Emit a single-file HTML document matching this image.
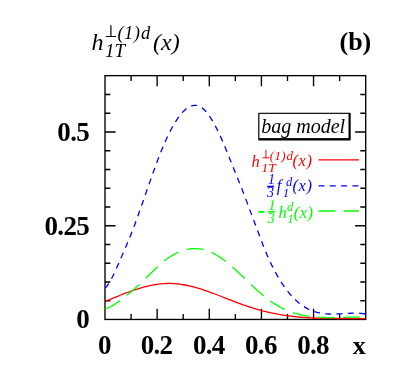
<!DOCTYPE html>
<html><head><meta charset="utf-8">
<style>
html,body{margin:0;padding:0;background:#fff;}
body{width:409px;height:371px;overflow:hidden;position:relative;}
svg{display:block;position:absolute;left:0;top:0;}
.w{position:absolute;left:0;top:0;width:409px;height:371px;will-change:transform;}
.t{position:absolute;line-height:0;white-space:nowrap;font-family:"Liberation Serif",serif;}
</style></head><body>
<svg width="409" height="371" viewBox="0 0 409 371">
<rect width="409" height="371" fill="#fff"/>
<rect x="105.0" y="75.65" width="260.70" height="243.80" fill="none" stroke="#000" stroke-width="1.35"/>
<path d="M131.07,319.45 v-5.4 M131.07,75.65 v5.4 M157.14,319.45 v-10.6 M157.14,75.65 v10.6 M183.21,319.45 v-5.4 M183.21,75.65 v5.4 M209.28,319.45 v-10.6 M209.28,75.65 v10.6 M235.35,319.45 v-5.4 M235.35,75.65 v5.4 M261.42,319.45 v-10.6 M261.42,75.65 v10.6 M287.49,319.45 v-5.4 M287.49,75.65 v5.4 M313.56,319.45 v-10.6 M313.56,75.65 v10.6 M339.63,319.45 v-5.4 M339.63,75.65 v5.4 M105.0,300.70 h5.4 M365.7,300.70 h-5.4 M105.0,281.95 h5.4 M365.7,281.95 h-5.4 M105.0,263.20 h5.4 M365.7,263.20 h-5.4 M105.0,244.45 h5.4 M365.7,244.45 h-5.4 M105.0,225.70 h10.6 M365.7,225.70 h-10.6 M105.0,206.95 h5.4 M365.7,206.95 h-5.4 M105.0,188.20 h5.4 M365.7,188.20 h-5.4 M105.0,169.45 h5.4 M365.7,169.45 h-5.4 M105.0,150.70 h5.4 M365.7,150.70 h-5.4 M105.0,131.95 h10.6 M365.7,131.95 h-10.6 M105.0,113.20 h5.4 M365.7,113.20 h-5.4 M105.0,94.45 h5.4 M365.7,94.45 h-5.4" stroke="#000" stroke-width="1.35" fill="none"/>
<g fill="none" stroke-width="1.3">
<path d="M105.20,301.42 L106.51,300.88 L107.81,300.34 L109.12,299.79 L110.43,299.25 L111.74,298.71 L113.04,298.17 L114.35,297.63 L115.66,297.10 L116.96,296.57 L118.27,296.04 L119.58,295.52 L120.88,295.00 L122.19,294.49 L123.50,293.98 L124.81,293.47 L126.11,292.98 L127.42,292.49 L128.73,292.01 L130.03,291.54 L131.34,291.07 L132.65,290.62 L133.95,290.17 L135.26,289.73 L136.57,289.31 L137.88,288.89 L139.18,288.49 L140.49,288.09 L141.80,287.71 L143.10,287.35 L144.41,286.99 L145.72,286.65 L147.03,286.33 L148.33,286.02 L149.64,285.72 L150.95,285.44 L152.25,285.18 L153.56,284.93 L154.87,284.70 L156.17,284.49 L157.48,284.29 L158.79,284.12 L160.10,283.96 L161.40,283.82 L162.71,283.70 L164.02,283.61 L165.32,283.53 L166.63,283.48 L167.94,283.45 L169.24,283.44 L170.55,283.45 L171.86,283.48 L173.17,283.54 L174.47,283.62 L175.78,283.72 L177.09,283.85 L178.39,283.99 L179.70,284.15 L181.01,284.33 L182.32,284.53 L183.62,284.75 L184.93,284.99 L186.24,285.24 L187.54,285.51 L188.85,285.79 L190.16,286.09 L191.46,286.41 L192.77,286.74 L194.08,287.08 L195.39,287.44 L196.69,287.81 L198.00,288.19 L199.31,288.58 L200.61,288.99 L201.92,289.40 L203.23,289.82 L204.53,290.26 L205.84,290.70 L207.15,291.15 L208.46,291.61 L209.76,292.08 L211.07,292.55 L212.38,293.03 L213.68,293.51 L214.99,294.00 L216.30,294.49 L217.61,294.99 L218.91,295.49 L220.22,296.00 L221.53,296.50 L222.83,297.01 L224.14,297.52 L225.45,298.03 L226.75,298.54 L228.06,299.06 L229.37,299.57 L230.68,300.08 L231.98,300.58 L233.29,301.09 L234.60,301.59 L235.90,302.09 L237.21,302.59 L238.52,303.08 L239.82,303.56 L241.13,304.05 L242.44,304.52 L243.75,304.99 L245.05,305.45 L246.36,305.91 L247.67,306.35 L248.97,306.79 L250.28,307.22 L251.59,307.64 L252.89,308.06 L254.20,308.46 L255.51,308.85 L256.82,309.23 L258.12,309.61 L259.43,309.98 L260.74,310.33 L262.04,310.68 L263.35,311.02 L264.66,311.35 L265.97,311.67 L267.27,311.98 L268.58,312.29 L269.89,312.58 L271.19,312.87 L272.50,313.15 L273.81,313.42 L275.11,313.68 L276.42,313.93 L277.73,314.18 L279.04,314.42 L280.34,314.64 L281.65,314.86 L282.96,315.07 L284.26,315.28 L285.57,315.47 L286.88,315.66 L288.18,315.84 L289.49,316.01 L290.80,316.18 L292.11,316.33 L293.41,316.48 L294.72,316.62 L296.03,316.76 L297.33,316.89 L298.64,317.01 L299.95,317.12 L301.26,317.23 L302.56,317.34 L303.87,317.43 L305.18,317.52 L306.48,317.61 L307.79,317.69 L309.10,317.77 L310.40,317.84 L311.71,317.90 L313.02,317.96 L314.33,318.02 L315.63,318.07 L316.94,318.12 L318.25,318.16 L319.55,318.20 L320.86,318.24 L322.17,318.28 L323.47,318.31 L324.78,318.33 L326.09,318.36 L327.40,318.38 L328.70,318.40 L330.01,318.42 L331.32,318.43 L332.62,318.45 L333.93,318.46 L335.24,318.47 L336.55,318.48 L337.85,318.48 L339.16,318.49 L340.47,318.49 L341.77,318.50 L343.08,318.50 L344.39,318.51 L345.69,318.51 L347.00,318.51 L348.31,318.52 L349.62,318.52 L350.92,318.53 L352.23,318.53 L353.54,318.54 L354.84,318.55 L356.15,318.56 L357.46,318.57 L358.76,318.58 L360.07,318.59 L361.38,318.61 L362.69,318.63 L363.99,318.65 L365.30,318.67" stroke="#ff0000"/>
<path d="M105.20,308.90 L106.48,308.47 L107.77,307.97 L109.05,307.41 L110.33,306.79 L111.61,306.11 L112.90,305.38 L114.18,304.60 L115.46,303.78 L116.75,302.93 L118.03,302.03 L119.31,301.11 L120.59,300.15 L121.88,299.17 L123.16,298.18 L124.44,297.17 L125.73,296.14 L127.01,295.11 L128.29,294.07 L129.58,293.02 L130.86,291.95 L132.14,290.88 L133.42,289.78 L134.71,288.67 L135.99,287.55 L137.27,286.40 L138.56,285.22 L139.84,284.03 L141.12,282.81 L142.40,281.58 L143.69,280.33 L144.97,279.07 L146.25,277.81 L147.54,276.53 L148.82,275.26 L150.10,273.99 L151.38,272.72 L152.67,271.47 L153.95,270.22 L155.23,268.99 L156.52,267.77 L157.80,266.58 L159.08,265.41 L160.37,264.27 L161.65,263.16 L162.93,262.08 L164.21,261.04 L165.50,260.04 L166.78,259.08 L168.06,258.16 L169.35,257.28 L170.63,256.44 L171.91,255.64 L173.19,254.88 L174.48,254.17 L175.76,253.50 L177.04,252.87 L178.33,252.28 L179.61,251.74 L180.89,251.23 L182.17,250.77 L183.46,250.36 L184.74,249.98 L186.02,249.65 L187.31,249.36 L188.59,249.12 L189.87,248.92 L191.16,248.77 L192.44,248.66 L193.72,248.59 L195.00,248.57 L196.29,248.60 L197.57,248.66 L198.85,248.78 L200.14,248.94 L201.42,249.15 L202.70,249.40 L203.98,249.70 L205.27,250.04 L206.55,250.43 L207.83,250.87 L209.12,251.35 L210.40,251.89 L211.68,252.46 L212.96,253.09 L214.25,253.76 L215.53,254.47 L216.81,255.23 L218.10,256.02 L219.38,256.86 L220.66,257.72 L221.95,258.63 L223.23,259.56 L224.51,260.53 L225.79,261.52 L227.08,262.55 L228.36,263.60 L229.64,264.67 L230.93,265.76 L232.21,266.88 L233.49,268.01 L234.77,269.16 L236.06,270.33 L237.34,271.51 L238.62,272.70 L239.91,273.91 L241.19,275.12 L242.47,276.33 L243.75,277.56 L245.04,278.78 L246.32,280.01 L247.60,281.23 L248.89,282.46 L250.17,283.68 L251.45,284.89 L252.74,286.10 L254.02,287.30 L255.30,288.49 L256.58,289.66 L257.87,290.83 L259.15,291.97 L260.43,293.10 L261.72,294.21 L263.00,295.30 L264.28,296.36 L265.56,297.40 L266.85,298.42 L268.13,299.40 L269.41,300.36 L270.70,301.28 L271.98,302.18 L273.26,303.04 L274.54,303.86 L275.83,304.66 L277.11,305.43 L278.39,306.16 L279.68,306.87 L280.96,307.55 L282.24,308.20 L283.53,308.82 L284.81,309.41 L286.09,309.98 L287.37,310.53 L288.66,311.04 L289.94,311.53 L291.22,312.00 L292.51,312.45 L293.79,312.87 L295.07,313.26 L296.35,313.64 L297.64,314.00 L298.92,314.33 L300.20,314.64 L301.49,314.94 L302.77,315.21 L304.05,315.47 L305.33,315.71 L306.62,315.93 L307.90,316.13 L309.18,316.32 L310.47,316.49 L311.75,316.65 L313.03,316.79 L314.32,316.92 L315.60,317.03 L316.88,317.13 L318.16,317.22 L319.45,317.30 L320.73,317.37 L322.01,317.43 L323.30,317.47 L324.58,317.51 L325.86,317.54 L327.14,317.56 L328.43,317.57 L329.71,317.57 L330.99,317.57 L332.28,317.56 L333.56,317.55 L334.84,317.53 L336.12,317.51 L337.41,317.48 L338.69,317.45 L339.97,317.42 L341.26,317.39 L342.54,317.35 L343.82,317.32 L345.11,317.28 L346.39,317.25 L347.67,317.21 L348.95,317.18 L350.24,317.15 L351.52,317.12 L352.80,317.09 L354.09,317.07 L355.37,317.05 L356.65,317.04 L357.93,317.03 L359.22,317.03 L360.50,317.03" stroke="#00ff00" stroke-dasharray="16.9 8.6"/>
<path d="M105.20,288.19 L106.51,286.66 L107.81,284.88 L109.12,282.87 L110.43,280.65 L111.74,278.24 L113.04,275.68 L114.35,272.99 L115.66,270.18 L116.96,267.29 L118.27,264.33 L119.58,261.34 L120.88,258.33 L122.19,255.32 L123.50,252.30 L124.81,249.26 L126.11,246.20 L127.42,243.09 L128.73,239.94 L130.03,236.72 L131.34,233.44 L132.65,230.09 L133.95,226.66 L135.26,223.16 L136.57,219.60 L137.88,215.99 L139.18,212.34 L140.49,208.65 L141.80,204.93 L143.10,201.19 L144.41,197.43 L145.72,193.67 L147.03,189.91 L148.33,186.15 L149.64,182.41 L150.95,178.69 L152.25,175.00 L153.56,171.35 L154.87,167.74 L156.17,164.19 L157.48,160.70 L158.79,157.27 L160.10,153.92 L161.40,150.65 L162.71,147.47 L164.02,144.38 L165.32,141.40 L166.63,138.51 L167.94,135.73 L169.24,133.06 L170.55,130.49 L171.86,128.03 L173.17,125.68 L174.47,123.45 L175.78,121.33 L177.09,119.33 L178.39,117.44 L179.70,115.68 L181.01,114.04 L182.32,112.53 L183.62,111.16 L184.93,109.91 L186.24,108.81 L187.54,107.85 L188.85,107.04 L190.16,106.38 L191.46,105.87 L192.77,105.52 L194.08,105.33 L195.39,105.30 L196.69,105.45 L198.00,105.76 L199.31,106.26 L200.61,106.93 L201.92,107.78 L203.23,108.82 L204.53,110.04 L205.84,111.43 L207.15,112.98 L208.46,114.69 L209.76,116.55 L211.07,118.55 L212.38,120.69 L213.68,122.96 L214.99,125.35 L216.30,127.86 L217.61,130.47 L218.91,133.18 L220.22,135.99 L221.53,138.88 L222.83,141.85 L224.14,144.89 L225.45,148.00 L226.75,151.16 L228.06,154.37 L229.37,157.63 L230.68,160.92 L231.98,164.22 L233.29,167.51 L234.60,170.79 L235.90,174.03 L237.21,177.24 L238.52,180.44 L239.82,183.67 L241.13,186.94 L242.44,190.27 L243.75,193.67 L245.05,197.13 L246.36,200.62 L247.67,204.12 L248.97,207.64 L250.28,211.14 L251.59,214.61 L252.89,218.05 L254.20,221.47 L255.51,224.91 L256.82,228.39 L258.12,231.94 L259.43,235.52 L260.74,239.08 L262.04,242.56 L263.35,245.93 L264.66,249.19 L265.97,252.34 L267.27,255.40 L268.58,258.35 L269.89,261.21 L271.19,263.97 L272.50,266.64 L273.81,269.22 L275.11,271.70 L276.42,274.10 L277.73,276.41 L279.04,278.64 L280.34,280.78 L281.65,282.84 L282.96,284.82 L284.26,286.71 L285.57,288.53 L286.88,290.27 L288.18,291.94 L289.49,293.53 L290.80,295.05 L292.11,296.50 L293.41,297.88 L294.72,299.19 L296.03,300.43 L297.33,301.61 L298.64,302.72 L299.95,303.77 L301.26,304.76 L302.56,305.69 L303.87,306.56 L305.18,307.38 L306.48,308.13 L307.79,308.84 L309.10,309.49 L310.40,310.09 L311.71,310.63 L313.02,311.13 L314.33,311.59 L315.63,312.00 L316.94,312.36 L318.25,312.68 L319.55,312.97 L320.86,313.21 L322.17,313.42 L323.47,313.60 L324.78,313.74 L326.09,313.86 L327.40,313.95 L328.70,314.01 L330.01,314.05 L331.32,314.07 L332.62,314.08 L333.93,314.06 L335.24,314.03 L336.55,313.99 L337.85,313.93 L339.16,313.87 L340.47,313.80 L341.77,313.72 L343.08,313.65 L344.39,313.57 L345.69,313.49 L347.00,313.42 L348.31,313.35 L349.62,313.29 L350.92,313.24 L352.23,313.21 L353.54,313.18 L354.84,313.17 L356.15,313.18 L357.46,313.21 L358.76,313.26 L360.07,313.34 L361.38,313.44 L362.69,313.57 L363.99,313.73 L365.30,313.92" stroke="#0000ff" stroke-dasharray="6 5.315"/>
</g>
<rect x="258.2" y="112.8" width="92.5" height="27.8" rx="0.8" fill="#000"/>
<rect x="259.4" y="113.9" width="89.1" height="24.2" fill="#fff"/>
<path d="M318.6,159.8 H359" stroke="#ff0000" stroke-width="1.3"/>
<path d="M318.5,185.8 H359" stroke="#0000ff" stroke-width="1.3" stroke-dasharray="6 5.315"/>
<path d="M318.5,211 H359" stroke="#00ff00" stroke-width="1.3" stroke-dasharray="16.9 8.6"/>
<rect x="267.2" y="185.7" width="6.8" height="1.7" fill="#0000ff"/>
<rect x="258.3" y="211.0" width="6" height="1.8" fill="#00ff00"/>
<rect x="267.7" y="211.1" width="7.3" height="1.5" fill="#00ff00"/>
<path d="M110.90,25.30 V37.10 M105.80,36.50 H116.00" stroke="#000" stroke-width="1.2" fill="none"/>
<path d="M265.95,149.80 V158.30 M262.50,157.80 H269.40" stroke="#ff0000" stroke-width="1.0" fill="none"/>
</svg>
<div class="w">
<div class="t" style="left:89.00px;top:131.84px;font-size:27px;color:#000;font-weight:bold;letter-spacing:-0.7px;transform:translateX(-100%);">0.5</div>
<div class="t" style="left:89.00px;top:225.59px;font-size:27px;color:#000;font-weight:bold;letter-spacing:-0.7px;transform:translateX(-100%);">0.25</div>
<div class="t" style="left:89.00px;top:319.34px;font-size:27px;color:#000;font-weight:bold;letter-spacing:-0.7px;transform:translateX(-100%);">0</div>
<div class="t" style="left:104.45px;top:344.89px;font-size:27px;color:#000;font-weight:bold;letter-spacing:-0.7px;transform:translateX(-50%);">0</div>
<div class="t" style="left:156.59px;top:344.89px;font-size:27px;color:#000;font-weight:bold;letter-spacing:-0.7px;transform:translateX(-50%);">0.2</div>
<div class="t" style="left:208.73px;top:344.89px;font-size:27px;color:#000;font-weight:bold;letter-spacing:-0.7px;transform:translateX(-50%);">0.4</div>
<div class="t" style="left:260.87px;top:344.89px;font-size:27px;color:#000;font-weight:bold;letter-spacing:-0.7px;transform:translateX(-50%);">0.6</div>
<div class="t" style="left:313.01px;top:344.89px;font-size:27px;color:#000;font-weight:bold;letter-spacing:-0.7px;transform:translateX(-50%);">0.8</div>
<div class="t" style="left:359.30px;top:345.73px;font-size:26px;color:#000;font-weight:bold;transform:translateX(-50%);">x</div>
<div class="t" style="left:339.50px;top:41.83px;font-size:26px;color:#000;font-weight:bold;">(b)</div>
<div class="t" style="left:91.50px;top:41.60px;font-size:24px;color:#000;font-style:italic;">h</div>
<div class="t" style="left:117.50px;top:32.56px;font-size:18.5px;color:#000;font-style:italic;letter-spacing:0.4px;">(1)</div>
<div class="t" style="left:141.00px;top:32.56px;font-size:18.5px;color:#000;font-style:italic;">d</div>
<div class="t" style="left:105.00px;top:50.69px;font-size:19px;color:#000;font-style:italic;">1T</div>
<div class="t" style="left:153.00px;top:41.60px;font-size:24px;color:#000;font-style:italic;">(x)</div>
<div class="t" style="left:261.30px;top:125.95px;font-size:20px;color:#000;font-style:italic;">bag model</div>
<div class="t" style="left:251.60px;top:162.43px;font-size:16.5px;color:#ff0000;font-style:italic;">h</div>
<div class="t" style="left:269.80px;top:155.91px;font-size:13px;color:#ff0000;font-style:italic;letter-spacing:0.3px;">(1)</div>
<div class="t" style="left:286.60px;top:155.91px;font-size:13px;color:#ff0000;font-style:italic;">d</div>
<div class="t" style="left:261.50px;top:168.24px;font-size:13.5px;color:#ff0000;font-style:italic;">1T</div>
<div class="t" style="left:292.60px;top:161.03px;font-size:16.5px;color:#ff0000;font-style:italic;letter-spacing:0.5px;">(x)</div>
<div class="t" style="left:268.00px;top:180.28px;font-size:14px;color:#0000ff;font-style:italic;">1</div>
<div class="t" style="left:267.00px;top:192.68px;font-size:14px;color:#0000ff;font-style:italic;">3</div>
<div class="t" style="left:276.80px;top:186.23px;font-size:16.5px;color:#0000ff;font-style:italic;">f</div>
<div class="t" style="left:286.00px;top:181.58px;font-size:12.5px;color:#0000ff;font-style:italic;">d</div>
<div class="t" style="left:282.80px;top:193.21px;font-size:13px;color:#0000ff;font-style:italic;">1</div>
<div class="t" style="left:292.60px;top:186.03px;font-size:16.5px;color:#0000ff;font-style:italic;letter-spacing:0.5px;">(x)</div>
<div class="t" style="left:268.60px;top:206.28px;font-size:14px;color:#00ff00;font-style:italic;">1</div>
<div class="t" style="left:267.80px;top:219.28px;font-size:14px;color:#00ff00;font-style:italic;">3</div>
<div class="t" style="left:278.50px;top:212.53px;font-size:16.5px;color:#00ff00;font-style:italic;">h</div>
<div class="t" style="left:287.00px;top:207.38px;font-size:12.5px;color:#00ff00;font-style:italic;">d</div>
<div class="t" style="left:287.20px;top:218.81px;font-size:13px;color:#00ff00;font-style:italic;">1</div>
<div class="t" style="left:293.70px;top:213.33px;font-size:16.5px;color:#00ff00;font-style:italic;letter-spacing:0.5px;">(x)</div>
</div>
</body></html>
